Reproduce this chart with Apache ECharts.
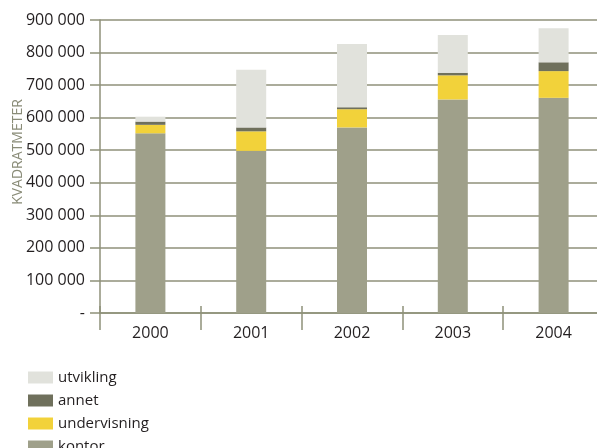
<!DOCTYPE html>
<html><head><meta charset="utf-8">
<script src="https://cdn.jsdelivr.net/npm/echarts@6/dist/echarts.min.js"></script>
<style>html,body{margin:0;padding:0;background:#fff}#c{width:597px;height:448px}</style>
</head><body><div id="c"></div>
<script>
const years = ['2000','2001','2002','2003','2004'];
const kontor = [552000, 498000, 570000, 656000, 661000];
const undervisning = [26000, 60000, 56000, 74000, 82000];
const annet = [10000, 12000, 6000, 8000, 27000];
const utvikling = [15000, 177000, 194000, 116000, 105000];
const yTicks = [0, 100000, 200000, 300000, 400000, 500000, 600000, 700000, 800000, 900000];
const yTitle = 'KVADRATMETER';

const FONT = '"Open Sans", "Liberation Sans", sans-serif';
const GRID = '#8f917a';
const TXT = '#231f20';
const chart = echarts.init(document.getElementById('c'));
function fmt(v){ if (v === 0) return '-'; return String(v).replace(/\B(?=(\d{3})+(?!\d))/g, ' '); }
const mk = (name, data, color) => ({
  name, type: 'bar', stack: 'tot', data, barWidth: 30,
  itemStyle: { color }, emphasis: { disabled: true }
});
chart.setOption({
  animation: false,
  textStyle: { fontFamily: FONT },
  grid: { left: 100, top: 20, width: 504, height: 293, outerBoundsMode: 'none', containLabel: false },
  graphic: [{
    type: 'text', x: 18, y: 152, rotation: Math.PI / 2,
    style: { text: yTitle, fontFamily: FONT, fontSize: 14, fill: '#8a8c78', align: 'center', verticalAlign: 'middle' }
  }],
  legend: {
    orient: 'vertical', left: 28, top: 370, height: 90, padding: 0,
    itemWidth: 25, itemHeight: 12, itemGap: 8,
    icon: 'rect',
    textStyle: { fontFamily: FONT, fontSize: 15, color: TXT, lineHeight: 14 },
    data: ['utvikling', 'annet', 'undervisning', 'kontor']
  },
  xAxis: [{
    type: 'category', data: years,
    axisLine: { lineStyle: { color: GRID, width: 1.5 } },
    axisTick: { show: true, length: 17, lineStyle: { color: GRID, width: 1.5 } },
    axisLabel: { fontFamily: FONT, fontSize: 16, color: TXT, margin: 12 }
  }, {
    type: 'category', data: years, position: 'bottom',
    axisLine: { show: false },
    axisTick: { show: true, inside: true, length: 7, lineStyle: { color: GRID, width: 1.5 } },
    axisLabel: { show: false }
  }],
  yAxis: {
    type: 'value', min: yTicks[0], max: yTicks[yTicks.length-1], interval: yTicks[1]-yTicks[0],
    axisLine: { show: true, lineStyle: { color: GRID, width: 1.5 } },
    axisTick: { show: true, length: 10, lineStyle: { color: GRID, width: 1.5 } },
    splitLine: { lineStyle: { color: GRID, width: 1.5 } },
    axisLabel: { fontFamily: FONT, fontSize: 16, color: TXT, margin: 15, formatter: fmt }
  },
  series: [
    mk('kontor', kontor, '#9fa08a'),
    mk('undervisning', undervisning, '#f2d23a'),
    mk('annet', annet, '#6f705c'),
    mk('utvikling', utvikling, '#e1e2dc')
  ]
});
</script></body></html>
